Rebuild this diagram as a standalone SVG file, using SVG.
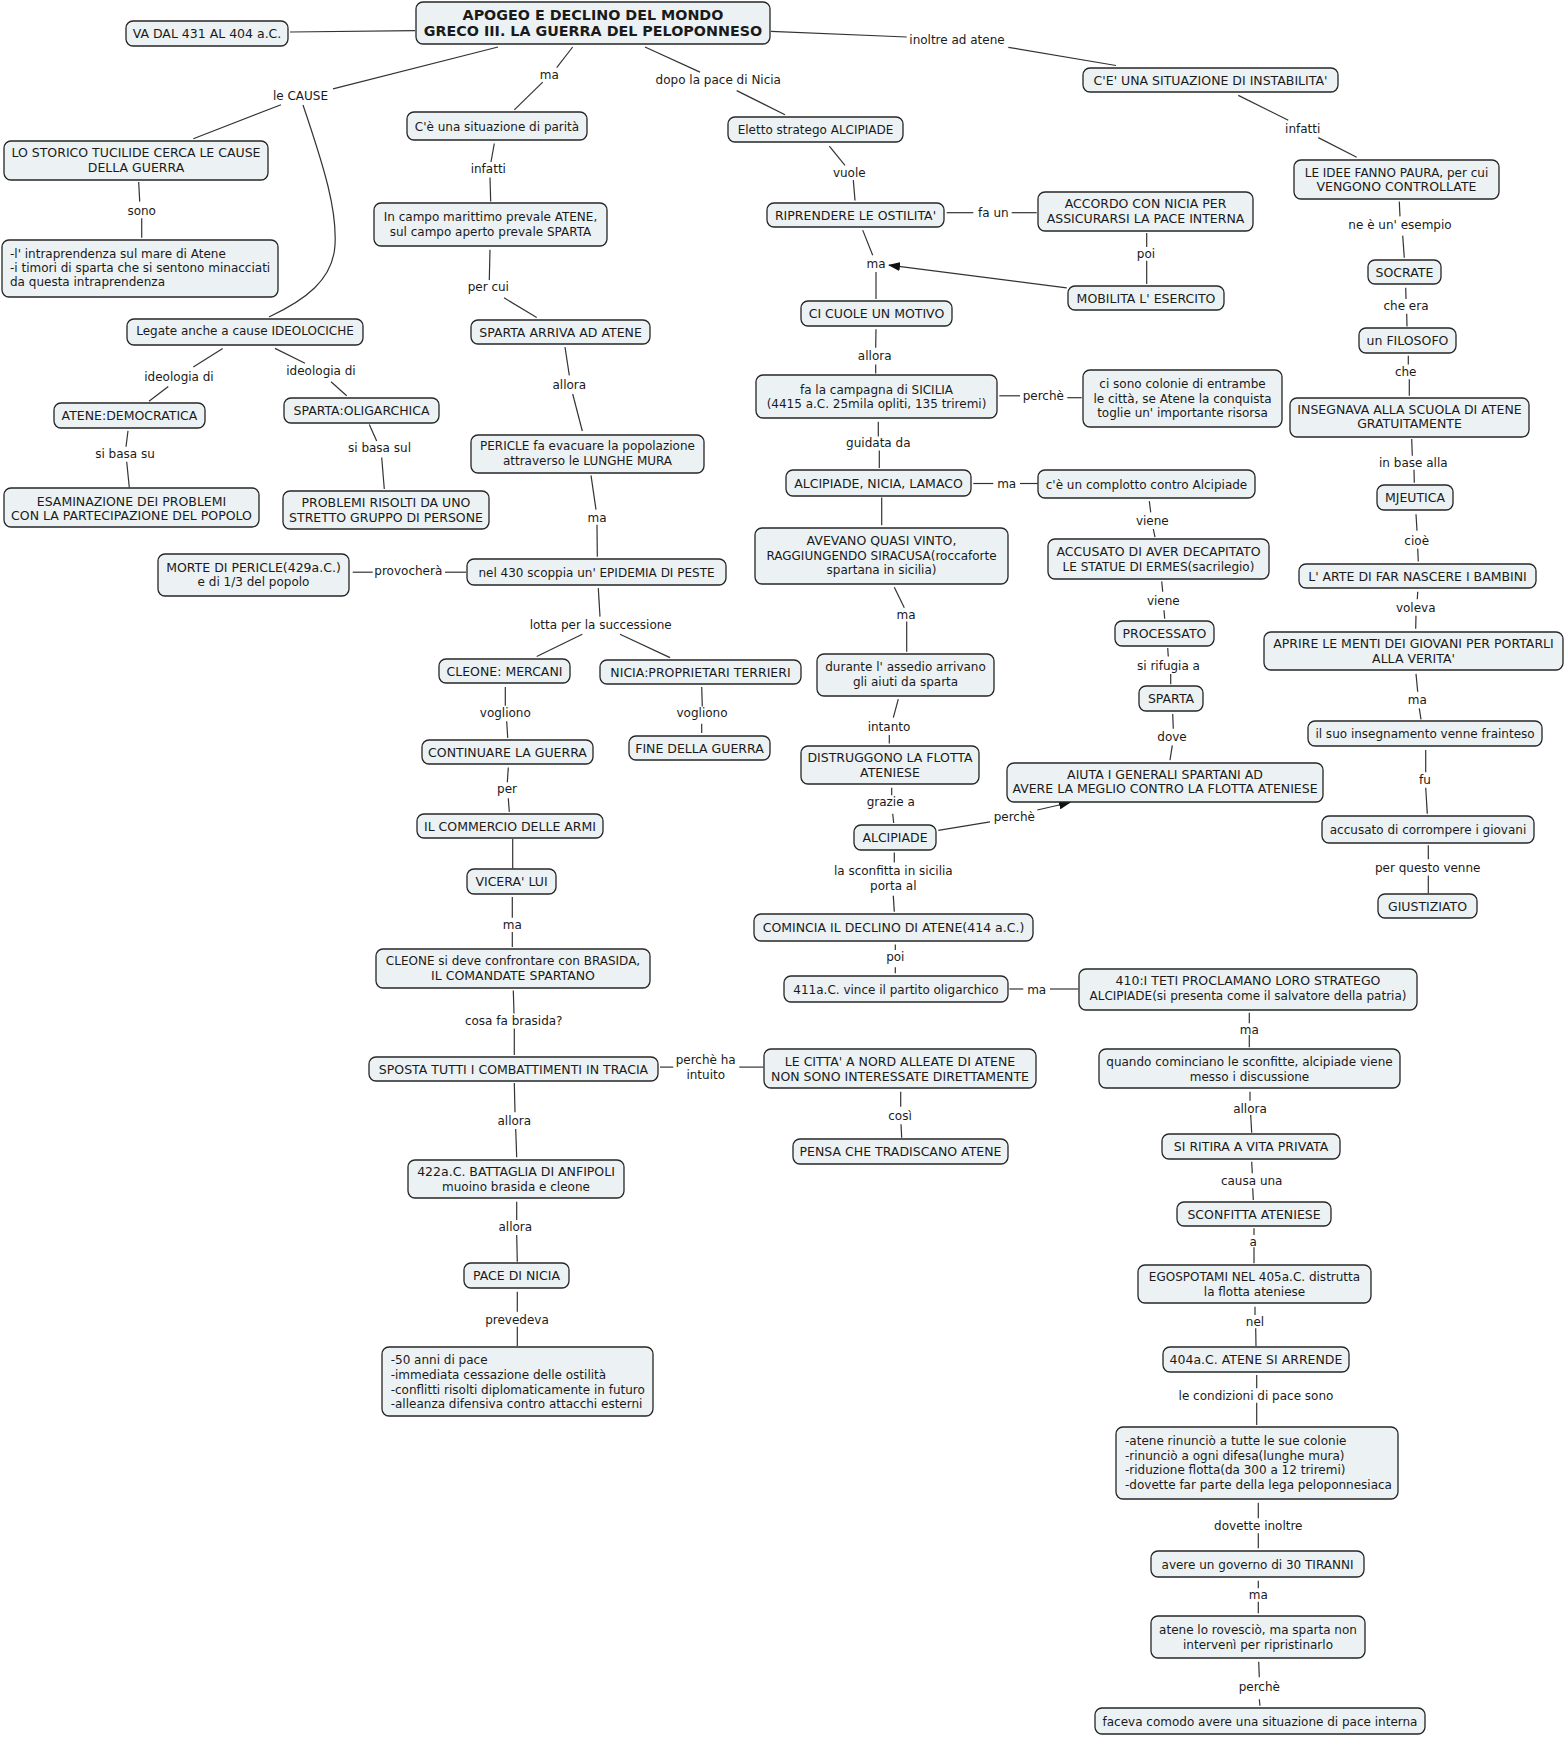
<svg xmlns="http://www.w3.org/2000/svg" width="1566" height="1737" viewBox="0 0 1566 1737">
<style>
text{font-family:"DejaVu Sans",Verdana,"Liberation Sans",sans-serif;font-size:12px;fill:#1a1a1a;text-anchor:middle}
.n rect{fill:#ECF2F4;stroke:#262626;stroke-width:1.3}
.l{text-anchor:start}
.u{font-size:12.5px}
.t{font-size:14.3px;font-weight:bold}
#connectors line,#connectors path{stroke:#333;stroke-width:1.2;fill:none}
</style>
<defs>
<marker id="arr" markerUnits="userSpaceOnUse" markerWidth="12" markerHeight="9" refX="11" refY="4.5" orient="auto">
<path d="M0,0 L12,4.5 L0,9 z" fill="#111"/>
</marker>
</defs>
<rect width="1566" height="1737" fill="#fff"/>
<g id="connectors">
<line x1="290" y1="32" x2="415" y2="30.7"/>
<line x1="498" y1="47" x2="333" y2="88.8"/>
<line x1="281" y1="104.7" x2="193.3" y2="138.7"/>
<path d="M303,105 C325,170 337,210 335,245 C333,280 305,300 269,317"/>
<line x1="138.7" y1="182" x2="139.7" y2="201.6"/>
<line x1="141.7" y1="218.2" x2="141.7" y2="237.8"/>
<line x1="222.7" y1="348.4" x2="193.3" y2="366.9"/>
<line x1="168.3" y1="386.6" x2="149" y2="401.3"/>
<line x1="275" y1="348.4" x2="305" y2="363.2"/>
<line x1="331" y1="381.7" x2="346.7" y2="395.8"/>
<line x1="128" y1="430.9" x2="126" y2="446.8"/>
<line x1="126.7" y1="461.7" x2="129.3" y2="487.5"/>
<line x1="369.3" y1="424.6" x2="376.7" y2="441"/>
<line x1="381.7" y1="457.5" x2="384.3" y2="489"/>
<line x1="352.7" y1="572.2" x2="372.7" y2="572.2"/>
<line x1="445" y1="572.2" x2="466" y2="572.2"/>
<line x1="572.7" y1="47" x2="556.7" y2="67.7"/>
<line x1="542.7" y1="82.1" x2="514.3" y2="109.9"/>
<line x1="645" y1="47" x2="700" y2="72.1"/>
<line x1="736.7" y1="90.6" x2="785" y2="114.7"/>
<line x1="771" y1="31.4" x2="906.7" y2="37"/>
<line x1="1008.3" y1="47.3" x2="1116" y2="65.5"/>
<line x1="494.3" y1="143.5" x2="491" y2="162"/>
<line x1="490" y1="177.6" x2="490.7" y2="201.6"/>
<line x1="490" y1="249.7" x2="489.3" y2="280"/>
<line x1="504" y1="297.8" x2="536.7" y2="317.4"/>
<line x1="565" y1="347" x2="569.3" y2="375.4"/>
<line x1="572.7" y1="394" x2="582.3" y2="431"/>
<line x1="591" y1="475.3" x2="596" y2="509.7"/>
<line x1="597" y1="524.7" x2="597.3" y2="556.7"/>
<line x1="598.3" y1="588.1" x2="600" y2="616.6"/>
<line x1="582.3" y1="634.3" x2="536.7" y2="656.5"/>
<line x1="620" y1="634.3" x2="670" y2="657.6"/>
<line x1="505.3" y1="686.9" x2="505.3" y2="705.7"/>
<line x1="506.7" y1="721.3" x2="507.7" y2="737.9"/>
<line x1="701.7" y1="686.9" x2="702.3" y2="706.5"/>
<line x1="701.7" y1="723.8" x2="701.7" y2="733.1"/>
<line x1="508.3" y1="767.5" x2="507.3" y2="782.3"/>
<line x1="508.3" y1="798.2" x2="509.3" y2="811.9"/>
<line x1="512.7" y1="838.9" x2="512.7" y2="868.5"/>
<line x1="512.3" y1="897" x2="512.3" y2="917.7"/>
<line x1="512.3" y1="932.1" x2="512.3" y2="946.9"/>
<line x1="513.3" y1="990.6" x2="514" y2="1013.6"/>
<line x1="514.3" y1="1028.4" x2="514.3" y2="1055"/>
<line x1="660" y1="1067.1" x2="673.3" y2="1067.1"/>
<line x1="739.3" y1="1067.1" x2="763.3" y2="1067.1"/>
<line x1="514.3" y1="1083" x2="515" y2="1112.3"/>
<line x1="515.7" y1="1129" x2="516.7" y2="1157.3"/>
<line x1="516.7" y1="1201.7" x2="516.7" y2="1220"/>
<line x1="516.7" y1="1235" x2="517.3" y2="1261.7"/>
<line x1="517.3" y1="1291.7" x2="517.3" y2="1311.7"/>
<line x1="517.3" y1="1326.7" x2="517.3" y2="1346"/>
<line x1="829.3" y1="146.1" x2="845" y2="165.3"/>
<line x1="853.3" y1="180.1" x2="855" y2="200.5"/>
<line x1="946.7" y1="212.7" x2="973.3" y2="212.7"/>
<line x1="1011.7" y1="212.7" x2="1036.7" y2="212.7"/>
<line x1="1146.7" y1="233" x2="1146.7" y2="247.1"/>
<line x1="1146.7" y1="260.8" x2="1146.7" y2="284.1"/>
<line x1="1066.7" y1="287.8" x2="889" y2="265.2" marker-end="url(#arr)"/>
<line x1="862.7" y1="230.1" x2="872.7" y2="255.2"/>
<line x1="876" y1="271.9" x2="876" y2="298.9"/>
<line x1="876" y1="329.2" x2="875.7" y2="347.7"/>
<line x1="875.7" y1="364.4" x2="875.7" y2="373.6"/>
<line x1="999.3" y1="395.8" x2="1020" y2="395.8"/>
<line x1="1067.3" y1="397.7" x2="1081.7" y2="397.7"/>
<line x1="878.3" y1="421.8" x2="878.3" y2="436.6"/>
<line x1="879.3" y1="450.5" x2="879.3" y2="467.9"/>
<line x1="973.3" y1="483.5" x2="993.3" y2="483.5"/>
<line x1="1020" y1="483.5" x2="1037.7" y2="483.5"/>
<line x1="1149.3" y1="501.2" x2="1150.7" y2="512.3"/>
<line x1="1153.3" y1="529" x2="1155" y2="537.1"/>
<line x1="881.7" y1="497.5" x2="881.7" y2="525.3"/>
<line x1="894.3" y1="587.3" x2="904.3" y2="607.7"/>
<line x1="906.7" y1="621.4" x2="906.7" y2="651.7"/>
<line x1="1161.7" y1="581.4" x2="1162.7" y2="591.8"/>
<line x1="1164" y1="610.3" x2="1164.7" y2="618.8"/>
<line x1="1167.7" y1="648" x2="1168.3" y2="656.5"/>
<line x1="1170.7" y1="673.9" x2="1170.7" y2="684.3"/>
<line x1="1172.7" y1="713.9" x2="1173.3" y2="728.7"/>
<line x1="1172.3" y1="745.3" x2="1170" y2="760.1"/>
<line x1="898.3" y1="699.1" x2="893.3" y2="717.6"/>
<line x1="889.3" y1="734.9" x2="889.3" y2="743.4"/>
<line x1="891.7" y1="787.8" x2="891.7" y2="795.2"/>
<line x1="892.7" y1="813.7" x2="893.7" y2="823"/>
<line x1="938.3" y1="830.4" x2="990" y2="821.9"/>
<line x1="1037.3" y1="810" x2="1070" y2="802.5" marker-end="url(#arr)"/>
<line x1="894.3" y1="852.6" x2="894.3" y2="862.6"/>
<line x1="893.3" y1="895.8" x2="894.3" y2="911.7"/>
<line x1="895.3" y1="944.5" x2="895.3" y2="950"/>
<line x1="895.3" y1="967.3" x2="895.3" y2="973.3"/>
<line x1="1009.3" y1="989" x2="1023.3" y2="989"/>
<line x1="1050" y1="989" x2="1078.3" y2="989"/>
<line x1="900.7" y1="1091.7" x2="900.7" y2="1106.7"/>
<line x1="901" y1="1124.3" x2="901.7" y2="1137.7"/>
<line x1="1238.3" y1="95.4" x2="1288.3" y2="120.2"/>
<line x1="1318.3" y1="137.6" x2="1356.7" y2="157.2"/>
<line x1="1399.3" y1="201.6" x2="1400" y2="216.4"/>
<line x1="1402.7" y1="235.6" x2="1404.3" y2="257.8"/>
<line x1="1405.7" y1="287.8" x2="1406" y2="298.9"/>
<line x1="1406.7" y1="313.7" x2="1407" y2="326.6"/>
<line x1="1408.3" y1="355.8" x2="1408.3" y2="364.4"/>
<line x1="1409.3" y1="379.2" x2="1409.3" y2="395.8"/>
<line x1="1411.7" y1="439.1" x2="1412.3" y2="455.7"/>
<line x1="1414" y1="469.8" x2="1414.3" y2="482.7"/>
<line x1="1416" y1="514.2" x2="1417" y2="530.8"/>
<line x1="1417.7" y1="548.6" x2="1418.3" y2="561.5"/>
<line x1="1417.7" y1="591.8" x2="1417.3" y2="599.2"/>
<line x1="1416" y1="615.8" x2="1415.7" y2="628.8"/>
<line x1="1416" y1="673.9" x2="1417.7" y2="691.7"/>
<line x1="1419.3" y1="708.3" x2="1421" y2="719.4"/>
<line x1="1425.7" y1="750.1" x2="1425.7" y2="772.3"/>
<line x1="1425.7" y1="787.8" x2="1427.3" y2="813.7"/>
<line x1="1428.3" y1="845.2" x2="1428.3" y2="859.2"/>
<line x1="1428.3" y1="875.5" x2="1428.3" y2="893.3"/>
<line x1="1249.3" y1="1012.7" x2="1249.3" y2="1023.3"/>
<line x1="1249.3" y1="1035" x2="1249.3" y2="1047.3"/>
<line x1="1250" y1="1091.7" x2="1250" y2="1100.7"/>
<line x1="1250.7" y1="1115" x2="1251.7" y2="1132.7"/>
<line x1="1251.7" y1="1161.7" x2="1252.3" y2="1173.3"/>
<line x1="1252.7" y1="1188.3" x2="1253.3" y2="1200"/>
<line x1="1254" y1="1228.3" x2="1254" y2="1235"/>
<line x1="1254" y1="1247.3" x2="1254" y2="1263.3"/>
<line x1="1255" y1="1306.7" x2="1255" y2="1315"/>
<line x1="1255.7" y1="1328.3" x2="1256" y2="1346"/>
<line x1="1256.7" y1="1375" x2="1256.7" y2="1388.3"/>
<line x1="1256.7" y1="1402.7" x2="1256.7" y2="1425"/>
<line x1="1258.3" y1="1502.7" x2="1258.3" y2="1518.3"/>
<line x1="1258.3" y1="1533.3" x2="1258.3" y2="1548.3"/>
<line x1="1258.3" y1="1580.7" x2="1258.3" y2="1588.3"/>
<line x1="1258.3" y1="1601.7" x2="1258.3" y2="1613.3"/>
<line x1="1258.7" y1="1661.7" x2="1259.3" y2="1677.3"/>
<line x1="1259.3" y1="1699.3" x2="1260" y2="1705.7"/>
<g id="labels">
<text x="300.5" y="100.3">le CAUSE</text>
<text x="141.7" y="215.3">sono</text>
<text x="179" y="380.7">ideologia di</text>
<text x="321" y="375.1">ideologia di</text>
<text x="125" y="458.4">si basa su</text>
<text x="379.5" y="452.1">si basa sul</text>
<text x="408.3" y="574.8">provocherà</text>
<text x="549.3" y="78.5">ma</text>
<text x="718.3" y="84">dopo la pace di Nicia</text>
<text x="957" y="44.1">inoltre ad atene</text>
<text x="488.3" y="173.2">infatti</text>
<text x="488.3" y="291.2">per cui</text>
<text x="569.3" y="389.2">allora</text>
<text x="597" y="521.6">ma</text>
<text x="600.7" y="628.5">lotta per la successione</text>
<text x="505.3" y="717.2">vogliono</text>
<text x="702" y="717.2">vogliono</text>
<text x="507" y="793.1">per</text>
<text x="512.3" y="929.2">ma</text>
<text x="513.7" y="1024.6">cosa fa brasida?</text>
<text x="705.7" y="1064.2">perchè ha</text>
<text x="705.7" y="1079">intuito</text>
<text x="514.3" y="1124.5">allora</text>
<text x="515.3" y="1231.2">allora</text>
<text x="517" y="1323.5">prevedeva</text>
<text x="849.3" y="176.5">vuole</text>
<text x="993.3" y="217.2">fa un</text>
<text x="1146" y="257.9">poi</text>
<text x="876" y="268.2">ma</text>
<text x="874.7" y="359.6">allora</text>
<text x="1043.3" y="400.3">perchè</text>
<text x="878.3" y="446.5">guidata da</text>
<text x="1006.7" y="488">ma</text>
<text x="1152.3" y="524.9">viene</text>
<text x="906" y="618.5">ma</text>
<text x="1163.3" y="604.8">viene</text>
<text x="1168.5" y="669.5">si rifugia a</text>
<text x="1172" y="740.6">dove</text>
<text x="889" y="731.3">intanto</text>
<text x="890.7" y="806">grazie a</text>
<text x="1014.3" y="821.2">perchè</text>
<text x="893.3" y="874.8">la sconfitta in sicilia</text>
<text x="893.3" y="890.4">porta al</text>
<text x="895.3" y="961.2">poi</text>
<text x="1036.7" y="993.5">ma</text>
<text x="900" y="1120.2">così</text>
<text x="1302.7" y="133.2">infatti</text>
<text x="1400" y="229">ne è un' esempio</text>
<text x="1406" y="310.4">che era</text>
<text x="1405.7" y="375.5">che</text>
<text x="1413.3" y="466.9">in base alla</text>
<text x="1416.7" y="544.5">cioè</text>
<text x="1415.7" y="611.8">voleva</text>
<text x="1417.3" y="703.6">ma</text>
<text x="1425" y="783.8">fu</text>
<text x="1427.7" y="871.9">per questo venne</text>
<text x="1249.3" y="1033.5">ma</text>
<text x="1250" y="1112.8">allora</text>
<text x="1251.7" y="1184.5">causa una</text>
<text x="1253.3" y="1246.2">a</text>
<text x="1255" y="1326.2">nel</text>
<text x="1256" y="1399.5">le condizioni di pace sono</text>
<text x="1258.3" y="1530.2">dovette inoltre</text>
<text x="1258.3" y="1598.8">ma</text>
<text x="1259.3" y="1691.2">perchè</text>
</g>
</g>
<g id="nodes" class="n">
<g id="title"><rect x="416" y="2" width="354" height="42" rx="7"/><text class="t" x="593" y="19.8">APOGEO E DECLINO DEL MONDO</text><text class="t" x="593" y="35.7">GRECO III. LA GUERRA DEL PELOPONNESO</text></g>
<g id="va"><rect x="126" y="21" width="162" height="25" rx="7"/><text class="u" x="207" y="38">VA DAL 431 AL 404 a.C.</text></g>
<g id="storico"><rect x="4" y="141" width="264" height="39" rx="7"/><text class="u" x="136" y="157">LO STORICO TUCILIDE CERCA LE CAUSE</text><text class="u" x="136" y="171.7">DELLA GUERRA</text></g>
<g id="cause"><rect x="2" y="240" width="276" height="57" rx="7"/><text class="l" x="10" y="257.5">-l' intraprendenza sul mare di Atene</text><text class="l" x="10" y="271.8">-i timori di sparta che si sentono minacciati</text><text class="l" x="10" y="286.4">da questa intraprendenza</text></g>
<g id="legate"><rect x="127" y="319" width="236" height="26" rx="7"/><text x="245" y="334.8">Legate anche a cause IDEOLOCICHE</text></g>
<g id="atene-dem"><rect x="54" y="403" width="151" height="25" rx="7"/><text class="u" x="129.5" y="420">ATENE:DEMOCRATICA</text></g>
<g id="esamina"><rect x="4" y="488" width="255" height="39" rx="7"/><text class="u" x="131.5" y="505.7">ESAMINAZIONE DEI PROBLEMI</text><text class="u" x="131.5" y="519.8">CON LA PARTECIPAZIONE DEL POPOLO</text></g>
<g id="sparta-olig"><rect x="284" y="398" width="155" height="25" rx="7"/><text class="u" x="361.5" y="415">SPARTA:OLIGARCHICA</text></g>
<g id="problemi"><rect x="283" y="491" width="206" height="38" rx="7"/><text class="u" x="386" y="506.8">PROBLEMI RISOLTI DA UNO</text><text class="u" x="386" y="521.6">STRETTO GRUPPO DI PERSONE</text></g>
<g id="morte"><rect x="158" y="554" width="191" height="42" rx="7"/><text class="u" x="253.5" y="571.5">MORTE DI PERICLE(429a.C.)</text><text x="253.5" y="585.9">e di 1/3 del popolo</text></g>
<g id="parita"><rect x="407" y="112" width="180" height="28" rx="7"/><text x="497" y="130.5">C'è una situazione di parità</text></g>
<g id="campo"><rect x="374" y="203" width="233" height="43" rx="7"/><text x="490.5" y="221.3">In campo marittimo prevale ATENE,</text><text x="490.5" y="236.1">sul campo aperto prevale SPARTA</text></g>
<g id="sparta-arriva"><rect x="471" y="320" width="179" height="24" rx="7"/><text class="u" x="560.5" y="336.5">SPARTA ARRIVA AD ATENE</text></g>
<g id="pericle"><rect x="471" y="435" width="233" height="38" rx="7"/><text x="587.5" y="450.2">PERICLE fa evacuare la popolazione</text><text x="587.5" y="465">attraverso le LUNGHE MURA</text></g>
<g id="epidemia"><rect x="467" y="559" width="259" height="26" rx="7"/><text x="596.5" y="576.5">nel 430 scoppia un' EPIDEMIA DI PESTE</text></g>
<g id="cleone-merc"><rect x="439" y="659" width="131" height="24" rx="7"/><text class="u" x="504.5" y="675.5">CLEONE: MERCANI</text></g>
<g id="nicia-prop"><rect x="600" y="660" width="201" height="24" rx="7"/><text class="u" x="700.5" y="676.5">NICIA:PROPRIETARI TERRIERI</text></g>
<g id="continuare"><rect x="422" y="740" width="171" height="24" rx="7"/><text class="u" x="507.5" y="756.5">CONTINUARE LA GUERRA</text></g>
<g id="fine"><rect x="629" y="736" width="141" height="24" rx="7"/><text class="u" x="699.5" y="752.5">FINE DELLA GUERRA</text></g>
<g id="commercio"><rect x="417" y="814" width="186" height="24" rx="7"/><text class="u" x="510" y="830.5">IL COMMERCIO DELLE ARMI</text></g>
<g id="vicera"><rect x="467" y="869" width="89" height="25" rx="7"/><text class="u" x="511.5" y="886">VICERA' LUI</text></g>
<g id="cleone-bras"><rect x="376" y="949" width="274" height="39" rx="7"/><text x="513" y="965.4">CLEONE si deve confrontare con BRASIDA,</text><text class="u" x="513" y="980.2">IL COMANDATE SPARTANO</text></g>
<g id="sposta"><rect x="369" y="1057" width="289" height="24" rx="7"/><text class="u" x="513.5" y="1073.5">SPOSTA TUTTI I COMBATTIMENTI IN TRACIA</text></g>
<g id="anfipoli"><rect x="408" y="1160" width="216" height="38" rx="7"/><text class="u" x="516" y="1175.5">422a.C. BATTAGLIA DI ANFIPOLI</text><text x="516" y="1190.5">muoino brasida e cleone</text></g>
<g id="pace-nicia"><rect x="464" y="1263" width="105" height="25" rx="7"/><text class="u" x="516.5" y="1280">PACE DI NICIA</text></g>
<g id="cinquanta"><rect x="382" y="1347" width="271" height="69" rx="7"/><text class="l" x="390.7" y="1363.8">-50 anni di pace</text><text class="l" x="390.7" y="1378.8">-immediata cessazione delle ostilità</text><text class="l" x="390.7" y="1393.5">-conflitti risolti diplomaticamente in futuro</text><text class="l" x="390.7" y="1407.8">-alleanza difensiva contro attacchi esterni</text></g>
<g id="eletto"><rect x="728" y="117" width="175" height="25" rx="7"/><text x="815.5" y="134">Eletto stratego ALCIPIADE</text></g>
<g id="riprendere"><rect x="767" y="203" width="177" height="24" rx="7"/><text class="u" x="855.5" y="219.5">RIPRENDERE LE OSTILITA'</text></g>
<g id="accordo"><rect x="1038" y="192" width="215" height="39" rx="7"/><text class="u" x="1145.5" y="207.9">ACCORDO CON NICIA PER</text><text class="u" x="1145.5" y="222.7">ASSICURARSI LA PACE INTERNA</text></g>
<g id="mobilita"><rect x="1068" y="286" width="156" height="24" rx="7"/><text class="u" x="1146" y="302.5">MOBILITA L' ESERCITO</text></g>
<g id="ci-cuole"><rect x="801" y="301" width="151" height="25" rx="7"/><text class="u" x="876.5" y="318">CI CUOLE UN MOTIVO</text></g>
<g id="sicilia"><rect x="756" y="375" width="241" height="43" rx="7"/><text x="876.5" y="393.6">fa la campagna di SICILIA</text><text x="876.5" y="407.7">(4415 a.C. 25mila opliti, 135 triremi)</text></g>
<g id="colonie"><rect x="1083" y="370" width="199" height="57" rx="7"/><text x="1182.5" y="388.1">ci sono colonie di entrambe</text><text x="1182.5" y="402.9">le città, se Atene la conquista</text><text x="1182.5" y="416.9">toglie un' importante risorsa</text></g>
<g id="lamaco"><rect x="786" y="470" width="185" height="26" rx="7"/><text class="u" x="878.5" y="487.5">ALCIPIADE, NICIA, LAMACO</text></g>
<g id="complotto"><rect x="1038" y="470" width="217" height="28" rx="7"/><text x="1146.5" y="488.5">c'è un complotto contro Alcipiade</text></g>
<g id="accusato-erm"><rect x="1048" y="539" width="221" height="40" rx="7"/><text class="u" x="1158.5" y="555.7">ACCUSATO DI AVER DECAPITATO</text><text x="1158.5" y="570.5">LE STATUE DI ERMES(sacrilegio)</text></g>
<g id="avevano"><rect x="755" y="528" width="253" height="56" rx="7"/><text class="u" x="881.5" y="545.3">AVEVANO QUASI VINTO,</text><text x="881.5" y="560.1">RAGGIUNGENDO SIRACUSA(roccaforte</text><text x="881.5" y="574.1">spartana in sicilia)</text></g>
<g id="processato"><rect x="1115" y="621" width="99" height="25" rx="7"/><text class="u" x="1164.5" y="638">PROCESSATO</text></g>
<g id="sparta2"><rect x="1139" y="686" width="64" height="25" rx="7"/><text class="u" x="1171" y="703">SPARTA</text></g>
<g id="aiuta"><rect x="1007" y="763" width="316" height="39" rx="7"/><text class="u" x="1165" y="778.6">AIUTA I GENERALI SPARTANI AD</text><text class="u" x="1165" y="793.4">AVERE LA MEGLIO CONTRO LA FLOTTA ATENIESE</text></g>
<g id="durante"><rect x="817" y="654" width="177" height="42" rx="7"/><text x="905.5" y="671.4">durante l' assedio arrivano</text><text x="905.5" y="686.2">gli aiuti da sparta</text></g>
<g id="distruggono"><rect x="801" y="746" width="178" height="38" rx="7"/><text class="u" x="890" y="762">DISTRUGGONO LA FLOTTA</text><text class="u" x="890" y="776.8">ATENIESE</text></g>
<g id="alcipiade"><rect x="854" y="825" width="82" height="25" rx="7"/><text class="u" x="895" y="842">ALCIPIADE</text></g>
<g id="comincia"><rect x="754" y="914" width="279" height="27" rx="7"/><text class="u" x="893.5" y="932">COMINCIA IL DECLINO DI ATENE(414 a.C.)</text></g>
<g id="vince"><rect x="784" y="976" width="224" height="26" rx="7"/><text x="896" y="993.5">411a.C. vince il partito oligarchico</text></g>
<g id="citta"><rect x="764" y="1049" width="272" height="39" rx="7"/><text class="u" x="900" y="1066.2">LE CITTA' A NORD ALLEATE DI ATENE</text><text class="u" x="900" y="1081.2">NON SONO INTERESSATE DIRETTAMENTE</text></g>
<g id="pensa"><rect x="793" y="1139" width="215" height="25" rx="7"/><text class="u" x="900.5" y="1156">PENSA CHE TRADISCANO ATENE</text></g>
<g id="instabilita"><rect x="1083" y="68" width="255" height="24" rx="7"/><text class="u" x="1210.5" y="84.5">C'E' UNA SITUAZIONE DI INSTABILITA'</text></g>
<g id="idee"><rect x="1294" y="160" width="205" height="39" rx="7"/><text x="1396.5" y="176.5">LE IDEE FANNO PAURA, per cui</text><text class="u" x="1396.5" y="190.6">VENGONO CONTROLLATE</text></g>
<g id="socrate"><rect x="1368" y="260" width="73" height="24" rx="7"/><text class="u" x="1404.5" y="276.5">SOCRATE</text></g>
<g id="filosofo"><rect x="1359" y="328" width="97" height="25" rx="7"/><text class="u" x="1407.5" y="345">un FILOSOFO</text></g>
<g id="insegnava"><rect x="1290" y="398" width="239" height="39" rx="7"/><text class="u" x="1409.5" y="414">INSEGNAVA ALLA SCUOLA DI ATENE</text><text class="u" x="1409.5" y="428.1">GRATUITAMENTE</text></g>
<g id="mjeutica"><rect x="1377" y="485" width="76" height="25" rx="7"/><text class="u" x="1415" y="502">MJEUTICA</text></g>
<g id="arte"><rect x="1299" y="564" width="237" height="24" rx="7"/><text class="u" x="1417.5" y="580.5">L' ARTE DI FAR NASCERE I BAMBINI</text></g>
<g id="aprire"><rect x="1264" y="632" width="299" height="38" rx="7"/><text class="u" x="1413.5" y="648.1">APRIRE LE MENTI DEI GIOVANI PER PORTARLI</text><text class="u" x="1413.5" y="662.9">ALLA VERITA'</text></g>
<g id="frainteso"><rect x="1308" y="721" width="234" height="25" rx="7"/><text x="1425" y="738">il suo insegnamento venne frainteso</text></g>
<g id="corrompere"><rect x="1322" y="816" width="212" height="27" rx="7"/><text x="1428" y="834">accusato di corrompere i giovani</text></g>
<g id="giustiziato"><rect x="1378" y="894" width="99" height="24" rx="7"/><text class="u" x="1427.5" y="910.5">GIUSTIZIATO</text></g>
<g id="teti"><rect x="1079" y="969" width="338" height="41" rx="7"/><text class="u" x="1248" y="984.7">410:I TETI PROCLAMANO LORO STRATEGO</text><text x="1248" y="999.5">ALCIPIADE(si presenta come il salvatore della patria)</text></g>
<g id="quando"><rect x="1099" y="1049" width="301" height="39" rx="7"/><text x="1249.5" y="1066.2">quando cominciano le sconfitte, alcipiade viene</text><text x="1249.5" y="1081.2">messo i discussione</text></g>
<g id="ritira"><rect x="1162" y="1134" width="178" height="25" rx="7"/><text class="u" x="1251" y="1151">SI RITIRA A VITA PRIVATA</text></g>
<g id="sconfitta"><rect x="1177" y="1202" width="154" height="24" rx="7"/><text class="u" x="1254" y="1218.5">SCONFITTA ATENIESE</text></g>
<g id="egospotami"><rect x="1138" y="1265" width="233" height="38" rx="7"/><text x="1254.5" y="1281.2">EGOSPOTAMI NEL 405a.C. distrutta</text><text x="1254.5" y="1296.2">la flotta ateniese</text></g>
<g id="arrende"><rect x="1163" y="1347" width="186" height="25" rx="7"/><text class="u" x="1256" y="1364">404a.C. ATENE SI ARRENDE</text></g>
<g id="condizioni"><rect x="1116" y="1427" width="282" height="72" rx="7"/><text class="l" x="1125" y="1444.8">-atene rinunciò a tutte le sue colonie</text><text class="l" x="1125" y="1459.5">-rinunciò a ogni difesa(lunghe mura)</text><text class="l" x="1125" y="1474.2">-riduzione flotta(da 300 a 12 triremi)</text><text class="l" x="1125" y="1488.8">-dovette far parte della lega peloponnesiaca</text></g>
<g id="tiranni"><rect x="1151" y="1551" width="213" height="26" rx="7"/><text x="1257.5" y="1568.5">avere un governo di 30 TIRANNI</text></g>
<g id="rovescio"><rect x="1151" y="1616" width="214" height="42" rx="7"/><text x="1258" y="1633.8">atene lo rovesciò, ma sparta non</text><text x="1258" y="1648.5">intervenì per ripristinarlo</text></g>
<g id="comodo"><rect x="1095" y="1708" width="330" height="26" rx="7"/><text x="1260" y="1725.5">faceva comodo avere una situazione di pace interna</text></g>
</g>
</svg>
